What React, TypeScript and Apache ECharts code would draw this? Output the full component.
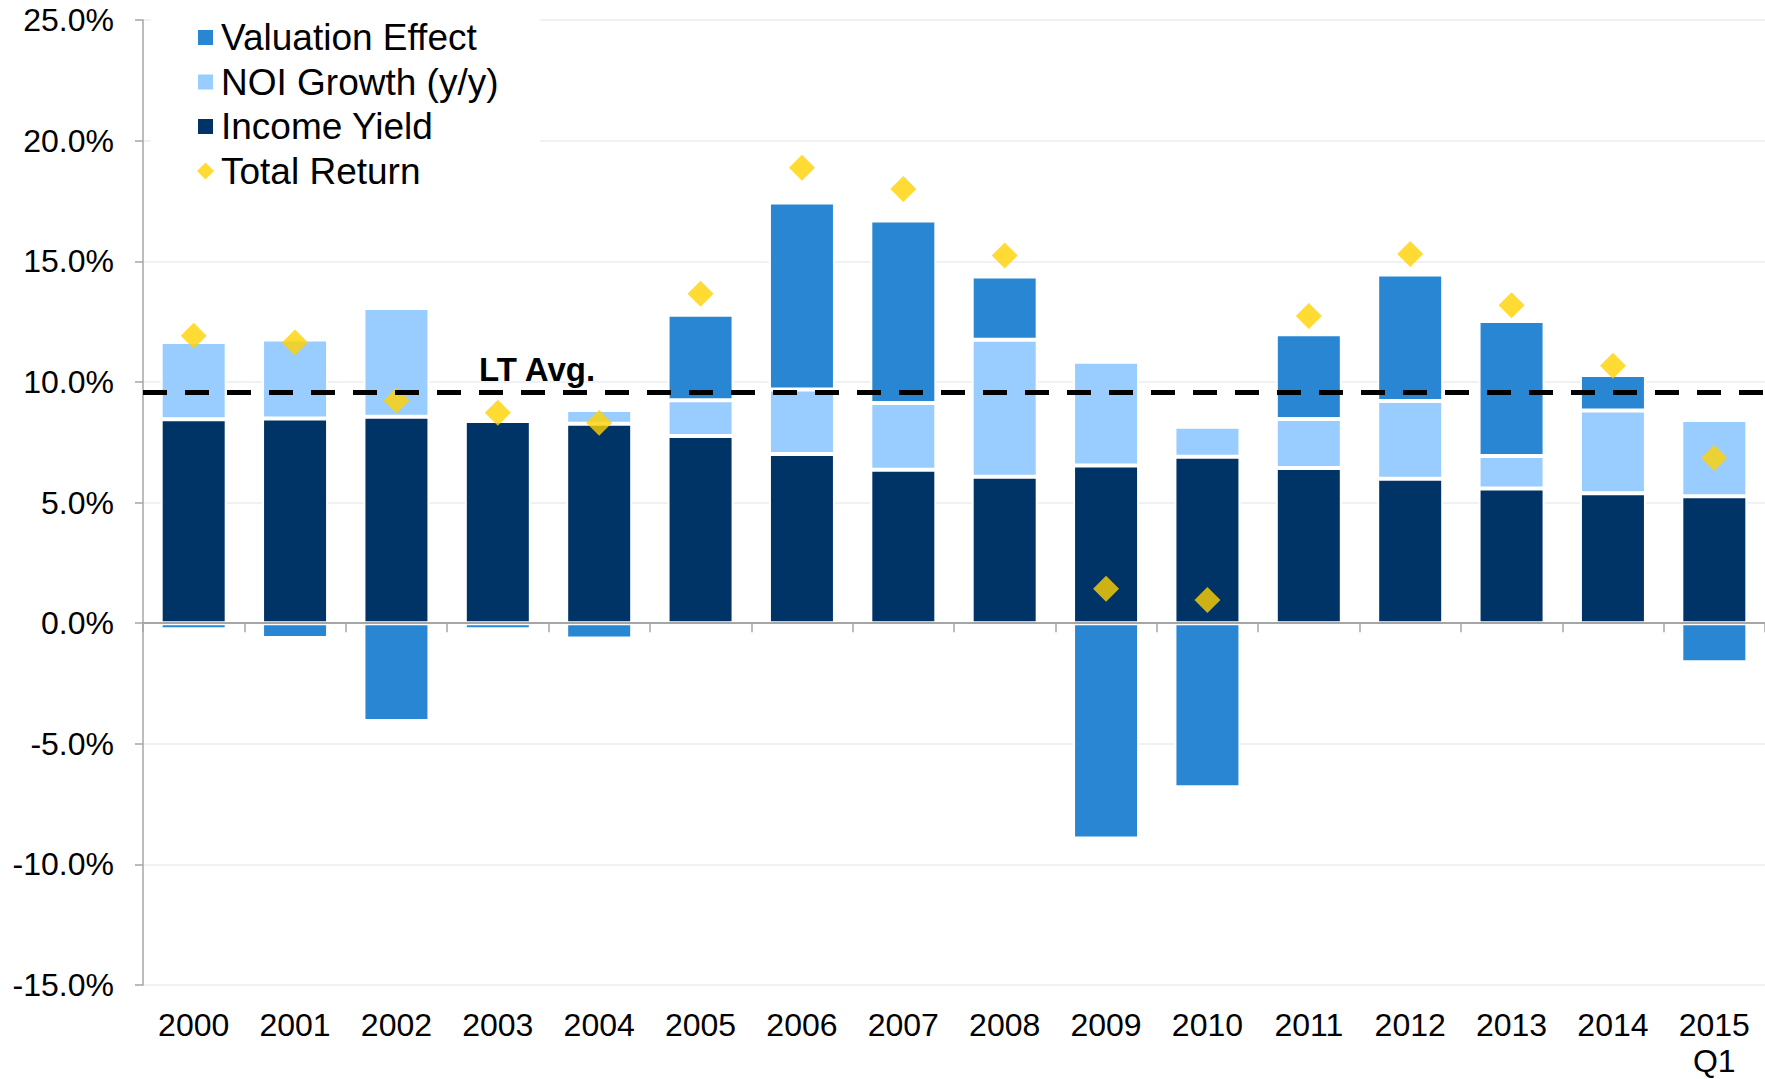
import React, { useEffect, useRef } from "react";
import * as echarts from "echarts";

const categories = ["2000", "2001", "2002", "2003", "2004", "2005", "2006", "2007", "2008", "2009", "2010", "2011", "2012", "2013", "2014", "2015\nQ1"];
const incomeYield = [8.45, 8.48, 8.55, 8.38, 8.26, 7.76, 7.01, 6.36, 6.07, 6.53, 6.9, 6.43, 5.98, 5.58, 5.38, 5.26];
const noiGrowth = [3.2, 3.28, 4.51, 0.16, 0.57, 1.48, 2.67, 2.76, 5.68, 4.3, 1.24, 2.03, 3.23, 1.35, 3.43, 3.16];
const valuationEffect = [-0.25, -0.62, -4.06, -0.25, -0.64, 3.54, 7.76, 7.57, 2.62, -8.93, -6.8, 3.51, 5.24, 5.59, 1.48, -1.62];
const totalReturn = [11.91, 11.63, 9.23, 8.72, 8.31, 13.65, 18.88, 18.0, 15.24, 1.42, 0.96, 12.73, 15.3, 13.18, 10.67, 6.86];
const ltAvg = 9.55;
const yTicks = { min: -15, max: 25, interval: 5 };

const FONT = "'Liberation Sans', Arial, Helvetica, sans-serif";
const C_VAL = "#2886D3";
const C_NOI = "#99CCFF";
const C_INC = "#003366";
const C_TR = "#FFD200";
const C_AXIS = "#A6A6A6";

export default function App() {
  const ref = useRef<HTMLDivElement>(null);
  useEffect(() => {
    if (!ref.current) return;
    const chart = echarts.init(ref.current, null, { renderer: "svg" });
    const barStyle = (color: string) => ({ color, borderColor: "#fff", borderWidth: 2 });
    chart.setOption({
      animation: false,
      backgroundColor: "#fff",
      textStyle: { fontFamily: FONT },
      grid: { left: 143, right: 0, top: 20, bottom: 90, containLabel: false },
      legend: {
        orient: "vertical",
        left: 196,
        top: 19,
        padding: 0,
        itemWidth: 17,
        itemHeight: 17,
        itemGap: 7.5,
        selectedMode: false,
        textStyle: { fontSize: 37, lineHeight: 36, color: "#000", fontFamily: FONT, padding: [0, 0, 0, 2] },
        data: [
          { name: "Valuation Effect", icon: "rect" },
          { name: "NOI Growth (y/y)", icon: "rect" },
          { name: "Income Yield", icon: "rect" },
          { name: "Total Return", icon: "diamond" },
        ],
      },
      graphic: [
        { type: "rect", left: 151, top: 0, shape: { width: 389, height: 200 }, style: { fill: "#fff" }, z: 1, silent: true },
        {
          type: "text",
          left: 479,
          top: 353,
          z: 10,
          style: { text: "LT Avg.", font: `bold 33px ${FONT}`, fill: "#000" },
        },
      ],
      xAxis: [
        {
          type: "category",
          data: categories,
          position: "bottom",
          axisLine: { show: false, onZero: false },
          axisTick: { show: false },
          axisLabel: { fontSize: 32, lineHeight: 36, color: "#000", margin: 22, fontFamily: FONT },
          splitLine: { show: false },
        },
        {
          type: "category",
          data: categories,
          position: "bottom",
          z: 5,
          axisLine: { show: true, onZero: true, lineStyle: { color: C_AXIS, width: 2 } },
          axisTick: { show: true, length: 9, lineStyle: { color: C_AXIS, width: 1.5 } },
          axisLabel: { show: false },
          splitLine: { show: false },
        },
      ],
      yAxis: {
        type: "value",
        min: yTicks.min,
        max: yTicks.max,
        interval: yTicks.interval,
        axisLine: { show: true, lineStyle: { color: C_AXIS, width: 1.5 } },
        axisTick: { show: true, length: 8, lineStyle: { color: C_AXIS, width: 1.5 } },
        axisLabel: {
          fontSize: 32,
          color: "#000",
          margin: 29,
          fontFamily: FONT,
          formatter: (v: number) => v.toFixed(1) + "%",
        },
        splitLine: { show: true, lineStyle: { color: "#E9EEF2", width: 1.5 } },
      },
      series: [
        { name: "Income Yield", type: "bar", stack: "total", barWidth: 66, data: incomeYield, itemStyle: barStyle(C_INC) },
        { name: "NOI Growth (y/y)", type: "bar", stack: "total", barWidth: 66, data: noiGrowth, itemStyle: barStyle(C_NOI) },
        { name: "Valuation Effect", type: "bar", stack: "total", barWidth: 66, data: valuationEffect, itemStyle: barStyle(C_VAL) },
        {
          name: "Total Return",
          type: "scatter",
          symbol: "diamond",
          symbolSize: 26,
          z: 3,
          data: totalReturn,
          itemStyle: { color: C_TR },
        },
        {
          name: "LT Avg.",
          type: "line",
          data: [],
          z: 6,
          markLine: {
            silent: true,
            symbol: "none",
            label: { show: false },
            lineStyle: { color: "#000", width: 5, type: [24, 18] },
            data: [{ yAxis: ltAvg }],
          },
        },
      ],
    });
    return () => chart.dispose();
  }, []);
  return (
    <div
      ref={ref}
      style={{ position: "fixed", left: 0, top: 0, width: 1765, height: 1079, background: "#fff" }}
    />
  );
}
